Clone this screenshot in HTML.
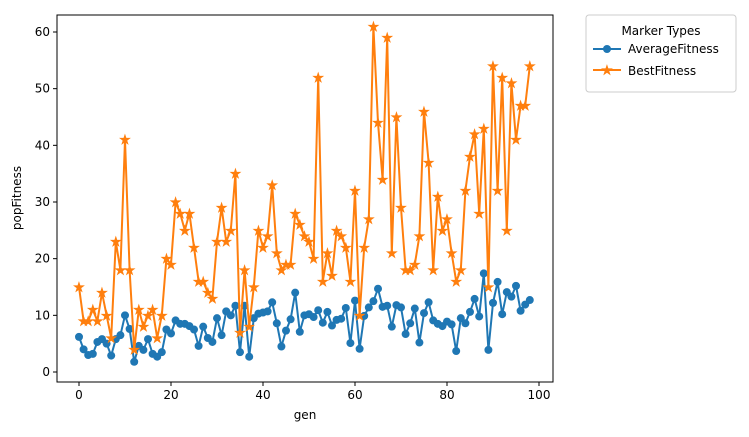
<!DOCTYPE html>
<html><head><meta charset="utf-8"><style>
body{margin:0;background:#fff;font-family:"Liberation Sans","DejaVu Sans",sans-serif;}
svg text{font-family:"DejaVu Sans","Liberation Sans",sans-serif;}
</style></head><body>
<svg id="chart" width="749" height="432" xmlns="http://www.w3.org/2000/svg">
<rect x="0" y="0" width="749" height="432" fill="#fff"/>
<g id="plot"></g>
<rect x="57" y="15" width="496" height="367" fill="none" stroke="#000" stroke-width="1"/>
<text x="305" y="419" font-size="12" text-anchor="middle">gen</text>
<text x="21" y="198" font-size="12" text-anchor="middle" transform="rotate(-90 21 198)">popFitness</text>
<g>
<rect x="586" y="15" width="150" height="77" fill="#fff" stroke="#ccc" rx="3"/>
<text x="661" y="35" font-size="12" text-anchor="middle">Marker Types</text>
<g>
<line x1="593" y1="49" x2="621" y2="49" stroke="#1f77b4" stroke-width="2"/>
<circle cx="607" cy="49" r="4" fill="#1f77b4"/>
<text x="628" y="53" font-size="12">AverageFitness</text></g>
<g>
<line x1="593" y1="70" x2="621" y2="70" stroke="#ff7f0e" stroke-width="2"/>
<text x="607" y="74.5" font-size="13" fill="#ff7f0e" stroke="#ff7f0e" stroke-width="0.6" text-anchor="middle">★</text>
<text x="628" y="75" font-size="12">BestFitness</text></g>
</g>
</svg>
<script>
const bestFitness=[15,9,9,11,9,14,10,6,23,18,41,18,4,11,8,10,11,6,10,20,19,30,28,25,28,22,16,16,14,13,23,29,23,25,35,7,18,8,15,25,22,24,33,21,18,19,19,28,26,24,23,20,52,16,21,17,25,24,22,16,32,10,22,27,61,44,34,59,21,45,29,18,18,19,24,46,37,18,31,25,27,21,16,18,32,38,42,28,43,15,54,32,52,25,51,41,47,47,54];
const avgFitness=[6.2,4,3,3.2,5.3,5.8,5,2.9,5.8,6.5,10,7.6,1.8,4.6,3.9,5.8,3.2,2.7,3.5,7.5,6.8,9.1,8.5,8.5,8.1,7.5,4.6,8,6,5.3,9.5,6.5,10.7,10,11.7,3.5,11.7,2.7,9.5,10.3,10.5,10.7,12.3,8.6,4.5,7.3,9.3,14,7.1,10,10.2,9.7,10.9,8.7,10.6,8.2,9.2,9.4,11.3,5.1,12.6,4.1,9.9,11.4,12.5,14.7,11.5,11.7,8,11.8,11.4,6.7,8.6,11.2,5.2,10.4,12.3,9.1,8.5,8.1,8.9,8.4,3.7,9.5,8.6,10.6,12.9,9.8,17.4,3.9,12.2,15.9,10.2,14.1,13.3,15.2,10.8,11.9,12.7];
const xTicks=[0,20,40,60,80,100];
const yTicks=[0,10,20,30,40,50,60];
const NS="http://www.w3.org/2000/svg";
const g=document.getElementById('plot');
const sx=v=>79+v*4.6, sy=v=>372-v*(340/60);
function el(t,a){const e=document.createElementNS(NS,t);for(const k in a)e.setAttribute(k,a[k]);g.appendChild(e);return e;}
xTicks.forEach(t=>{const l=el('line',{x1:sx(t),x2:sx(t),y1:382,y2:386,stroke:'#000'});


const tx=el('text',{x:sx(t),y:399,'font-size':12,'text-anchor':'middle'});tx.textContent=t;

});
yTicks.forEach(t=>{const l=el('line',{x1:53,x2:57,y1:sy(t),y2:sy(t),stroke:'#000'});


const tx=el('text',{x:50,y:sy(t)+4,'font-size':12,'text-anchor':'end'});tx.textContent=t;

});
function series(d,c,name,star){
const p=el('polyline',{points:d.map((v,i)=>sx(i)+','+sy(v)).join(' '),fill:'none',stroke:c,'stroke-width':2,'stroke-linejoin':'round'});


d.forEach((v,i)=>{let m;
if(star){m=el('text',{x:sx(i),y:sy(v)+4.5,'font-size':13,'text-anchor':'middle',fill:c,stroke:c,'stroke-width':0.6});m.textContent='★';}
else m=el('circle',{cx:sx(i),cy:sy(v),r:4,fill:c});

});}
series(avgFitness,'#1f77b4','average-fitness',false);
series(bestFitness,'#ff7f0e','best-fitness',true);
</script>
</body></html>
